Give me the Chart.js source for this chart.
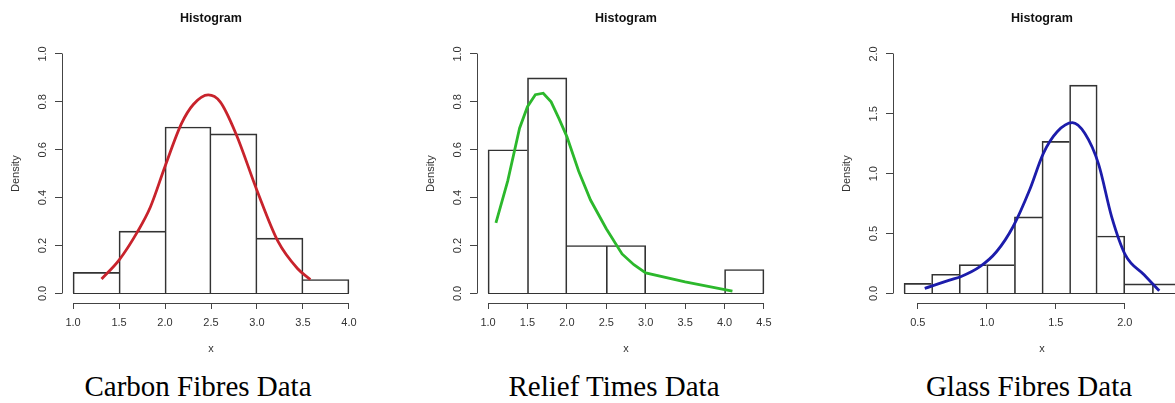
<!DOCTYPE html>
<html>
<head>
<meta charset="utf-8">
<script src="https://cdn.jsdelivr.net/npm/chart.js@4.4.0/dist/chart.umd.min.js"></script>
<style>
  html, body { margin: 0; padding: 0; background: #fff; overflow: hidden; }
  #wrap { position: relative; width: 1175px; height: 403px; overflow: hidden; }
  canvas { position: absolute; top: 0; }
  .cap { position: absolute; top: 372px; width: 400px; text-align: center;
         font-family: 'Liberation Serif', 'Times New Roman', serif; font-size: 29px;
         line-height: 29px; color: #000; white-space: nowrap; }
</style>
</head>
<body>
<div id="wrap">
  <canvas id="carbon" width="370" height="360" style="left:0px"></canvas>
  <canvas id="relief" width="370" height="360" style="left:415px"></canvas>
  <canvas id="glass" width="370" height="360" style="left:831px"></canvas>
  <div class="cap" style="left:-2px">Carbon Fibres Data</div>
  <div class="cap" style="left:414px">Relief Times Data</div>
  <div class="cap" style="left:829px">Glass Fibres Data</div>
</div>
<script>
// carbon fibres
const carbonEdges = [1.0, 1.5, 2.0, 2.5, 3.0, 3.5, 4.0];
const carbonDensity = [0.088, 0.26, 0.695, 0.666, 0.231, 0.058];
const carbonCurveX = [1.31, 1.5, 1.70, 1.84, 2.0, 2.18, 2.31, 2.47, 2.60, 2.77, 3.0, 3.23, 3.44, 3.58];
const carbonCurveY = [0.06, 0.139, 0.257, 0.36, 0.53, 0.71, 0.79, 0.829, 0.80, 0.668, 0.43, 0.216, 0.104, 0.058];
const carbonXTicks = [1.0, 1.5, 2.0, 2.5, 3.0, 3.5, 4.0];
const carbonYTicks = [0, 0.2, 0.4, 0.6, 0.8, 1.0];

// relief times
const reliefEdges = [1.0, 1.5, 2.0, 2.5, 3.0, 3.5, 4.0, 4.5];
const reliefDensity = [0.6, 0.9, 0.2, 0.2, 0, 0, 0.1];
const reliefCurveX = [1.10, 1.25, 1.40, 1.50, 1.60, 1.70, 1.80, 1.90, 2.00, 2.15, 2.30, 2.50, 2.70, 2.85, 3.00, 3.50, 4.10];
const reliefCurveY = [0.295, 0.47, 0.69, 0.78, 0.83, 0.836, 0.80, 0.73, 0.655, 0.51, 0.39, 0.27, 0.165, 0.12, 0.086, 0.048, 0.01];
const reliefXTicks = [1.0, 1.5, 2.0, 2.5, 3.0, 3.5, 4.0, 4.5];
const reliefYTicks = [0, 0.2, 0.4, 0.6, 0.8, 1.0];

// glass fibres
const glassEdges = [0.4, 0.6, 0.8, 1.0, 1.2, 1.4, 1.6, 1.8, 2.0, 2.2, 2.4];
const glassDensity = [0.084, 0.16, 0.24, 0.24, 0.64, 1.27, 1.74, 0.48, 0.08, 0.08];
const glassCurveX = [0.55, 0.73, 0.81, 0.95, 1.07, 1.19, 1.31, 1.41, 1.51, 1.62, 1.71, 1.81, 1.905, 2.005, 2.14, 2.25];
const glassCurveY = [0.042, 0.111, 0.139, 0.223, 0.348, 0.557, 0.864, 1.17, 1.35, 1.426, 1.337, 1.08, 0.64, 0.32, 0.156, 0.022];
const glassXTicks = [0.5, 1.0, 1.5, 2.0];
const glassYTicks = [0, 0.5, 1.0, 1.5, 2.0];

Chart.defaults.font.family = "'Liberation Sans', Arial, Helvetica, sans-serif";
Chart.defaults.color = '#333';

const align = p => Math.round(p - 0.5) + 0.5;

// R style axis lines (first to last tick) and the histogram baseline
const axisLines = {
  id: 'axisLines',
  afterDraw(chart, args, opts) {
    const {ctx, chartArea, scales: {x, y}} = chart;
    const xt = x.ticks, yt = y.ticks;
    ctx.save();
    ctx.lineWidth = 1;
    ctx.strokeStyle = '#444';
    ctx.beginPath();
    const by = align(chartArea.bottom);
    ctx.moveTo(align(x.getPixelForValue(xt[0].value)), by);
    ctx.lineTo(align(x.getPixelForValue(xt[xt.length - 1].value)), by);
    const lx = align(chartArea.left);
    ctx.moveTo(lx, align(y.getPixelForValue(yt[0].value)));
    ctx.lineTo(lx, align(y.getPixelForValue(yt[yt.length - 1].value)));
    ctx.stroke();
    // bottom edge of the bins
    ctx.strokeStyle = '#333';
    ctx.beginPath();
    const y0 = align(y.getPixelForValue(0));
    ctx.moveTo(x.getPixelForValue(opts.from), y0);
    ctx.lineTo(x.getPixelForValue(opts.to), y0);
    ctx.stroke();
    ctx.restore();
  }
};

function makeHist(id, edges, density, curveX, curveY, color, xTicks, yTicks, smooth) {
  const lo = edges[0], hi = edges[edges.length - 1];
  const yTop = yTicks[yTicks.length - 1];
  const bars = density.map((d, i) => ({x: (edges[i] + edges[i + 1]) / 2, y: d}));
  const curve = curveX.map((v, i) => ({x: v, y: curveY[i]}));

  new Chart(document.getElementById(id), {
    type: 'bar',
    data: {
      datasets: [{
        type: 'line',
        data: curve,
        borderColor: color,
        borderWidth: 2.8,
        pointRadius: 0,
        tension: smooth ? 0.4 : 0,
        cubicInterpolationMode: smooth ? 'monotone' : 'default',
        order: 1
      }, {
        type: 'bar',
        data: bars,
        backgroundColor: 'rgba(255,255,255,0)',
        borderColor: '#333',
        borderSkipped: false,
        borderWidth: c => {
          const i = c.dataIndex;
          const prev = density[i - 1], next = density[i + 1];
          return {
            top: 1, bottom: 0,
            left: (prev === undefined || prev <= density[i]) ? 1 : 0,
            right: (next === undefined || next < density[i]) ? 1 : 0
          };
        },
        barPercentage: 1,
        categoryPercentage: 1,
        order: 2
      }]
    },
    options: {
      responsive: false,
      animation: false,
      layout: { padding: { left: 0, right: 10, top: 0, bottom: 0 } },
      plugins: {
        legend: { display: false },
        tooltip: { enabled: false },
        axisLines: { from: lo, to: hi },
        title: {
          display: true,
          text: 'Histogram',
          fullSize: false,
          color: '#111',
          font: { size: 12.5, weight: 'bold' },
          padding: { top: 10.8, bottom: 18.6 }
        }
      },
      scales: {
        x: {
          type: 'linear',
          min: lo - 0.04 * (hi - lo),
          max: hi + 0.04 * (hi - lo),
          offset: false,
          afterBuildTicks: s => { s.ticks = xTicks.map(v => ({value: v})); },
          afterFit: s => { s.height = 57; },
          grid: { drawOnChartArea: false, drawTicks: true, tickLength: 6, color: '#444', offset: false },
          border: { display: false },
          ticks: { font: { size: 11 }, color: '#333', padding: 7, maxRotation: 0, autoSkip: false,
                   callback: v => Number(v).toFixed(1) },
          title: { display: true, text: 'x', font: { size: 11 }, color: '#333', padding: { top: 0, bottom: 4.4 } }
        },
        y: {
          type: 'linear',
          min: -0.04 * yTop,
          max: 1.04 * yTop,
          afterBuildTicks: s => { s.ticks = yTicks.map(v => ({value: v})); },
          afterFit: s => { s.width = 62; },
          grid: { drawOnChartArea: false, drawTicks: true, tickLength: 7, color: '#444' },
          border: { display: false },
          ticks: { font: { size: 11 }, color: '#333', padding: 4, minRotation: 90, maxRotation: 90,
                   crossAlign: 'center', autoSkip: false, callback: v => Number(v).toFixed(1) },
          title: { display: true, text: 'Density', font: { size: 11 }, color: '#333', padding: { top: 9.4, bottom: 0 } }
        }
      }
    },
    plugins: [axisLines]
  });
}

makeHist('carbon', carbonEdges, carbonDensity, carbonCurveX, carbonCurveY, '#c8232c', carbonXTicks, carbonYTicks, true);
makeHist('relief', reliefEdges, reliefDensity, reliefCurveX, reliefCurveY, '#2cb82c', reliefXTicks, reliefYTicks, false);
makeHist('glass', glassEdges, glassDensity, glassCurveX, glassCurveY, '#1c1cab', glassXTicks, glassYTicks, true);
</script>
</body>
</html>
